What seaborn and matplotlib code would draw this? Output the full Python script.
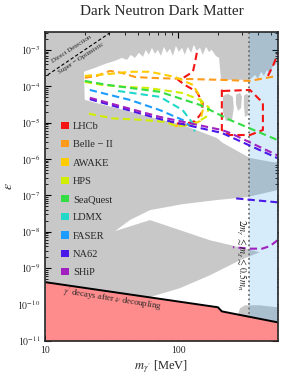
import numpy as np
import pandas as pd
import matplotlib
matplotlib.use("Agg")
import matplotlib.pyplot as plt
import matplotlib.ticker as mt
from matplotlib.patches import Patch
import seaborn as sns

sns.set_style("ticks")
plt.rcParams['font.family'] = ['Liberation Serif', 'DejaVu Serif']
plt.rcParams['mathtext.fontset'] = 'stix'

# ---------------- data (MeV, epsilon) ----------------
xlim = (10, 560)
ylim = (1e-11, 3.16e-3)
m_split = 341  # dotted boundary of blue region

# allowed (white) region, upper
white_up_m = [19.8, 19.5, 23.6, 28.1, 33.4, 37.7, 41.1, 44.0, 47.2, 50.6, 54.2, 57.1, 60.1, 63.4, 66.8, 70.3,
              74.1, 78.0, 82.2, 86.6, 91.2, 96.1, 101, 107, 112, 118, 125, 131, 138, 146, 153, 162, 170, 179,
              192, 203, 210, 341, 359, 378, 398, 420, 442, 466, 490, 517, 560,
              560, 347, 217, 195, 108, 61.2, 36.4, 25.7]
white_up_e = [4.2e-5, 2.5e-4, 3.2e-4, 4.1e-4, 5.0e-4, 6.0e-4, 5.3e-4, 7.3e-4, 6.0e-4, 8.3e-4, 6.4e-4, 1.0e-3,
              7.3e-4, 1.14e-3, 7.8e-4, 1.0e-3, 6.8e-4, 1.21e-3, 8.3e-4, 1.07e-3, 6.8e-4, 1.29e-3, 8.8e-4,
              1.14e-3, 7.3e-4, 1.21e-3, 8.3e-4, 1.37e-3, 9.4e-4, 1.14e-3, 7.3e-4, 1.21e-3, 8.8e-4, 1.0e-3,
              6.8e-4, 6.0e-4, 1.5e-4, 1.5e-4, 1.7e-4, 2.05e-4, 1.59e-4, 2.5e-4, 1.92e-4, 2.8e-4, 2.18e-4,
              3.6e-4, 4.4e-4,
              7.7e-7, 1.06e-6, 2.74e-6, 3.77e-6, 8.6e-6, 1.43e-5, 2.37e-5, 3.25e-5]

# gray islands inside the upper white region
isl1_m = [217, 237, 258, 262, 254, 229, 217]
isl1_e = [5.4e-5, 6.2e-5, 5.1e-5, 2.5e-5, 1.18e-5, 1.1e-5, 1.96e-5]
isl2_m = [272, 292, 302, 297, 282, 272]
isl2_e = [5.8e-5, 6.6e-5, 5.2e-5, 2.5e-5, 2.09e-5, 3.25e-5]
isl3_m = [312, 329, 341, 335, 318, 312]
isl3_e = [5.5e-5, 6.2e-5, 5.0e-5, 1.62e-5, 1.43e-5, 2.86e-5]

# allowed (white) region, lower tongue around the supernova wedge
white_lo_m = [33.4, 43.3, 61.2, 108, 195, 329, 560, 560, 61.2, 61.2, 103, 173, 292, 412, 267, 173, 103, 61.2]
white_lo_e = [1.03e-8, 2.08e-8, 3.9e-8, 5.7e-8, 7.4e-8, 8.9e-8, 1.39e-7, 1e-11, 1e-11, 1.58e-10,
              2.78e-10, 6.3e-10, 1.64e-9, 2.72e-9, 4.0e-9, 5.8e-9, 1.1e-8, 2.08e-8]

# gray patch near the bottom right
patch_m = [281, 281, 292, 318, 412, 560, 560]
patch_e = [1e-11, 5e-11, 7.8e-11, 9.4e-11, 9.4e-11, 8.3e-11, 1e-11]

# neutrino decoupling bound (red region below)
nu_m = [10, 199, 213, 560]
nu_e = [4.07e-10, 8.3e-11, 6.4e-11, 3.2e-11]

# direct detection super-optimistic line
dd_m = [10.4, 30.6]
dd_e = [2.05e-4, 2.94e-3]

# experiments' projected sensitivity curves
exp_names = ['LHCb', 'Belle − II', 'AWAKE', 'HPS', 'SeaQuest', 'LDMX', 'FASER', 'NA62', 'SHiP']
exp_colors = ['#f41414', '#ff9a1a', '#ffcc00', '#d2ee00', '#33dd44', '#22d8c8', '#1c9cff', '#4a18e8', '#a020c0']

belle_m = [19.8, 24.4, 30.6, 37.6, 47.2, 61.2, 103, 206, 347, 553]
belle_e = [1.7e-4, 1.92e-4, 2.64e-4, 2.33e-4, 1.8e-4, 1.7e-4, 1.6e-4, 1.5e-4, 1.4e-4, 1.92e-4]

awake_m = [19.8, 30.6, 43.3, 61.2, 94.4, 129, 146, 153, 146, 125, 94.4]
awake_e = [1.92e-4, 2.18e-4, 2.5e-4, 2.5e-4, 1.8e-4, 1.09e-4, 5.1e-5, 2.2e-5, 1.1e-5, 8.6e-6, 8.1e-6]

hps_m = [19.8, 26.5, 40, 58.6, 108, 146, 170, 162, 133, 99.7, 79.4, 51.5, 32.4, 19.8]
hps_e = [1.31e-4, 1.09e-4, 9.6e-5, 9.0e-5, 6.5e-5, 4.2e-5, 2.6e-5, 1.43e-5, 9.4e-6, 7.8e-6, 1.05e-5,
         1.2e-5, 1.3e-5, 1.85e-5]

sq_m = [19.8, 29.1, 72.8, 146, 245, 560]
sq_e = [1.4e-4, 1.09e-4, 7.0e-5, 3.05e-5, 1.18e-5, 3.3e-6]

ldmx_m = [35.2, 72.8, 108, 128, 133]
ldmx_e = [7.4e-5, 5.1e-5, 2.2e-5, 9.75e-6, 5.7e-6]

faser_m = [21.6, 43.3, 72.8, 108, 122]
faser_e = [7.9e-5, 4.2e-5, 2.2e-5, 1.18e-5, 8.1e-6]

na62_up_m = [21.6, 72.8, 213, 560]
na62_up_e = [4.4e-5, 1.25e-5, 5.2e-6, 1.05e-6]
na62_lo_m = [560, 254]
na62_lo_e = [6.4e-8, 8.4e-8]

ship_up_m = [21.6, 72.8, 213, 245, 560]
ship_up_e = [4.8e-5, 1.43e-5, 6.25e-6, 5.2e-6, 1.25e-6]
ship_lo_m = [560, 490, 428, 347, 258]
ship_lo_e = [5.8e-9, 4.0e-9, 3.4e-9, 3.4e-9, 3.74e-9]

lhcb_a_m = [138, 134, 129, 112, 99.7, 112, 138, 153, 150, 134, 112, 86.6]
lhcb_a_e = [8.3e-4, 4.7e-4, 2.5e-4, 1.8e-4, 1.5e-4, 1.09e-4, 7.0e-5, 3.47e-5, 1.84e-5, 1.1e-5, 9.1e-6, 9.8e-6]
lhcb_b_m = [217, 347, 434, 434, 347, 245, 213, 213]
lhcb_b_e = [7.4e-5, 7.9e-5, 3.47e-5, 6.25e-6, 4.55e-6, 4.55e-6, 6.25e-6, 9.0e-5]
lhcb_c_m = [473, 516, 560]
lhcb_c_e = [1.92e-4, 3.6e-4, 7.6e-4]

exp_data = {
    'LHCb': [(lhcb_a_m, lhcb_a_e), (lhcb_b_m, lhcb_b_e), (lhcb_c_m, lhcb_c_e)],
    'Belle − II': [(belle_m, belle_e)], 'AWAKE': [(awake_m, awake_e)],
    'HPS': [(hps_m, hps_e)], 'SeaQuest': [(sq_m, sq_e)], 'LDMX': [(ldmx_m, ldmx_e)],
    'FASER': [(faser_m, faser_e)],
    'NA62': [(na62_up_m, na62_up_e), (na62_lo_m, na62_lo_e)],
    'SHiP': [(ship_up_m, ship_up_e), (ship_lo_m, ship_lo_e)],
}

# ---------------- figure ----------------
GRAY = '#c8c8c8'
fig = plt.figure(figsize=(2.91, 3.77), dpi=100)
ax = fig.add_axes([0.156, 0.0963, 0.798, 0.8196])
ax.set_xscale('log')
ax.set_yscale('log')
ax.set_xlim(*xlim)
ax.set_ylim(*ylim)
ax.set_facecolor(GRAY)

ax.fill(white_up_m, white_up_e, color='white', lw=0, zorder=1)
ax.fill(white_lo_m, white_lo_e, color='white', lw=0, zorder=1)
for im, ie in [(isl1_m, isl1_e), (isl2_m, isl2_e), (isl3_m, isl3_e), (patch_m, patch_e)]:
    ax.fill(im, ie, color=GRAY, lw=0, zorder=1.1)

# blue region
ax.axvspan(m_split, xlim[1], color='#1e98e6', alpha=0.18, lw=0, zorder=2)
ax.axvline(m_split, color='#707070', ls=(0, (1, 1.5)), lw=1.3, zorder=2.1)

# red region
ax.fill_between(nu_m, [ylim[0]] * len(nu_m), nu_e, color='#ff8c8c', lw=0, zorder=3)
sns.lineplot(x=nu_m, y=nu_e, ax=ax, color='black', lw=1.4, sort=False, zorder=4, estimator=None)

# direct detection line
sns.lineplot(x=dd_m, y=dd_e, ax=ax, color='black', lw=0.8, ls=(0, (3, 2)), sort=False, zorder=4,
             estimator=None)

for name, col in zip(exp_names, exp_colors):
    for mm, ee in exp_data[name]:
        sns.lineplot(x=mm, y=ee, ax=ax, color=col, lw=1.5, ls=(0, (3.5, 2)), sort=False, zorder=5,
                     estimator=None)

# legend
handles = [Patch(facecolor=c, edgecolor='none') for c in exp_colors]
leg = ax.legend(handles, exp_names, loc='upper left', bbox_to_anchor=(0.05, 0.722), frameon=False,
                fontsize=7.5, handlelength=0.75, handleheight=0.7, handletextpad=0.4, labelspacing=0.86,
                borderaxespad=0)
leg.set_zorder(6)

# texts
ax.text(15.8, 1.07e-3, 'Direct Detection', rotation=33, rotation_mode='anchor', fontsize=5,
        ha='center', va='center', zorder=6)
ax.text(18.5, 6.0e-4, 'Super − Optimistic', rotation=33, rotation_mode='anchor', fontsize=5,
        ha='center', va='center', zorder=6)
ax.text(13.5, 2.3e-10, "$\\gamma'$ decays after $\\nu$ decoupling", rotation=-9, rotation_mode='anchor',
        fontsize=6.3, ha='left', va='center', zorder=6)
ax.text(297, 2.25e-9, "$2m_{\\gamma'} \\lesssim m_{\\chi} \\lesssim 0.5m_{n}$", rotation=-90, fontsize=7,
        ha='center', va='center', zorder=6)

ax.set_title('Dark Neutron Dark Matter', fontsize=11, pad=12)
ax.set_xlabel("$m_{\\gamma'}$ [MeV]", fontsize=9, labelpad=3)
ax.set_ylabel('$\\epsilon$', fontsize=10, labelpad=2)

ax.set_yticks([10.0 ** k for k in range(-11, -2)])
ax.set_yticklabels(['$10^{%d}$' % k for k in range(-11, -2)])
ax.set_xticks([10, 100])
ax.set_xticklabels(['10', '100'])
ax.tick_params(which='both', direction='in', top=True, right=True, labelsize=7, color='black')
ax.tick_params(which='major', length=4, width=0.8)
ax.tick_params(which='minor', length=2, width=0.6)
ax.yaxis.set_minor_locator(mt.LogLocator(base=10, subs=np.arange(2, 10), numticks=50))
ax.yaxis.set_minor_formatter(mt.NullFormatter())
for s in ax.spines.values():
    s.set_linewidth(1.2)
    s.set_zorder(7)

fig.savefig('out.png', dpi=100)
